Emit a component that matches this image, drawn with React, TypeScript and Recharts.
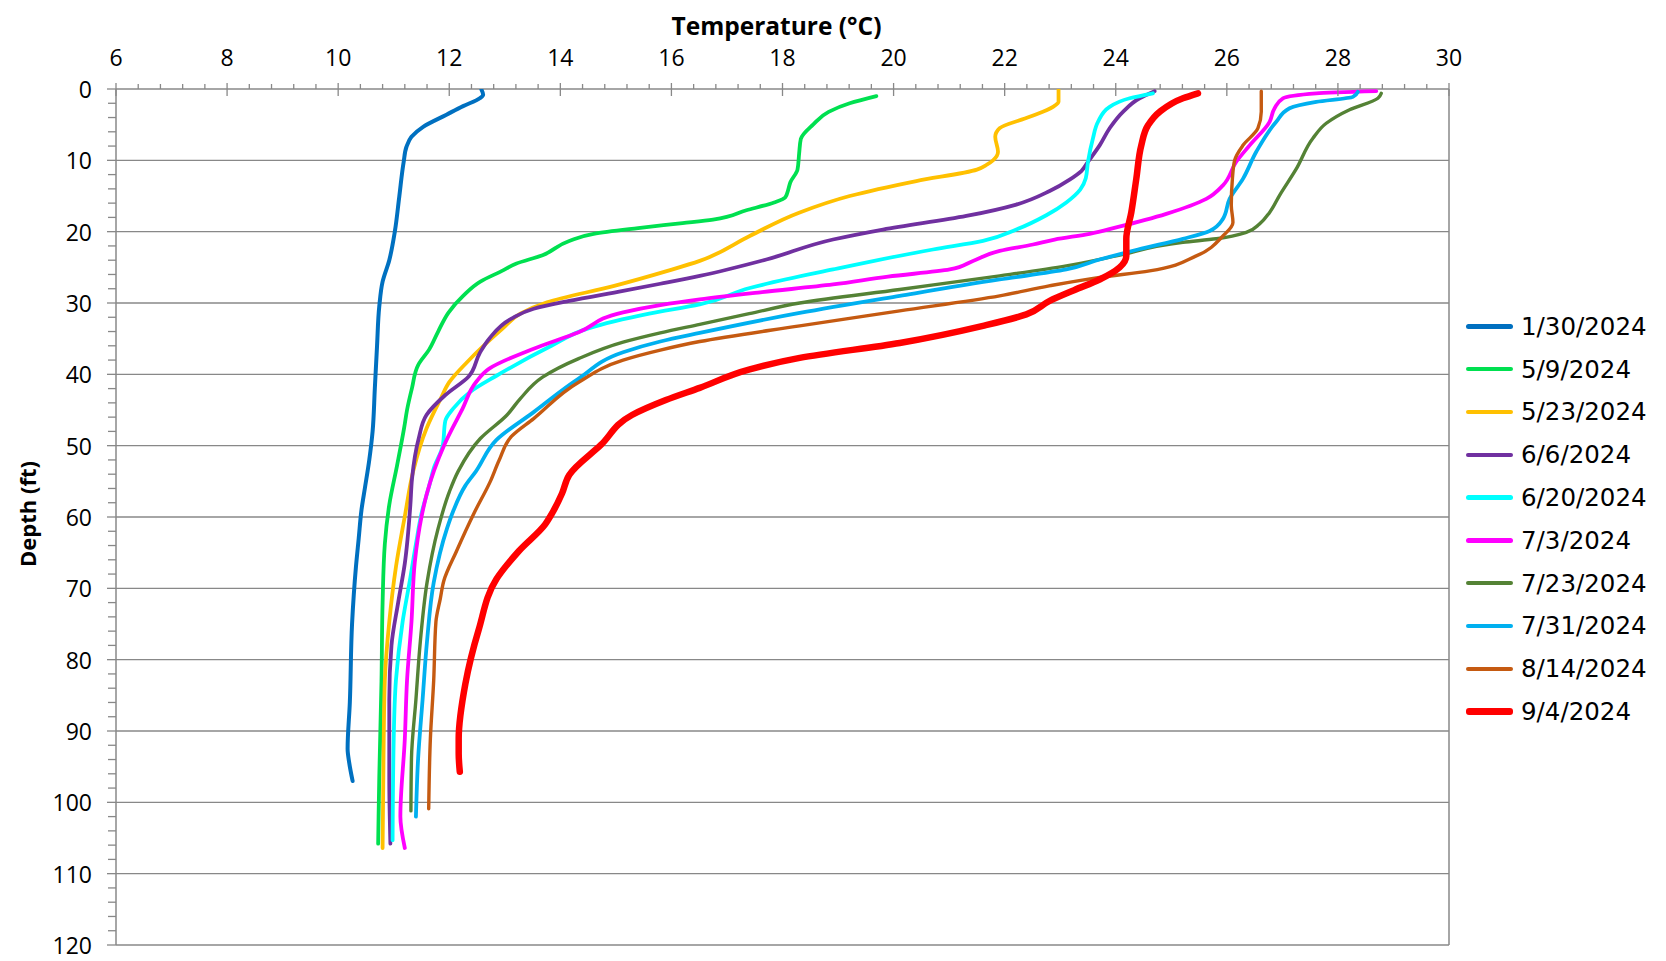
import React from 'react';
import { ScatterChart, Scatter, XAxis, YAxis, ReferenceLine, Legend } from 'recharts';

// axis labels
const tempTicks = [6, 8, 10, 12, 14, 16, 18, 20, 22, 24, 26, 28, 30];
const depthTicks = [0, 10, 20, 30, 40, 50, 60, 70, 80, 90, 100, 110, 120];

// minor tick marks between the labelled ones
const tempMinor: number[] = [];
for (let v = 6; v <= 30.001; v += 0.4) tempMinor.push(Math.round(v * 10) / 10);
const depthMinor: number[] = [];
for (let v = 0; v <= 120; v += 2) depthMinor.push(v);

// profiles: [depth ft, temperature °C]
const jan30 = [
  [0.1, 12.58], [0.8, 12.61], [1.3, 12.55], [2.4, 12.25], [3.6, 11.95], [5.3, 11.53], [6.7, 11.32],
  [8.1, 11.23], [10.2, 11.18], [15.1, 11.1], [20, 11.02], [24, 10.92], [27, 10.8], [30.5, 10.74],
  [36, 10.7], [42, 10.66], [48, 10.62], [52, 10.56], [56, 10.48], [59, 10.42], [63, 10.37], [67, 10.32],
  [75, 10.25], [86, 10.21], [92.5, 10.17], [94.5, 10.2], [97, 10.26],
];
const may9 = [
  [1, 19.69], [2, 19.21], [3.2, 18.83], [5, 18.55], [7, 18.33], [9, 18.3], [11.3, 18.27], [13.1, 18.14],
  [14.2, 18.1], [15.2, 18.05], [15.9, 17.85], [17, 17.35], [18.3, 16.75], [18.8, 16.2], [19.5, 15.4],
  [20.3, 14.6], [21.3, 14.16], [23.3, 13.68], [24.5, 13.2], [25.5, 12.95], [27, 12.56], [29, 12.25],
  [31.3, 11.99], [34, 11.8], [36.5, 11.64], [38.7, 11.44], [41.9, 11.33], [45, 11.24], [47.4, 11.19],
  [52.8, 11.06], [58.3, 10.92], [63.8, 10.84], [72, 10.8], [83, 10.78], [96.5, 10.74], [105.8, 10.72],
];
const may23 = [
  [0.1, 22.97], [1.8, 22.97], [2.5, 22.87], [3.9, 22.45], [5.5, 21.91], [6.7, 21.83], [8.8, 21.88],
  [10, 21.79], [10.6, 21.68], [11.3, 21.5], [12.9, 20.41], [15, 19.21], [17.3, 18.31], [20.6, 17.41],
  [24.1, 16.51], [25.5, 15.93], [27.6, 14.97], [29.9, 13.76], [31.5, 13.28], [33.6, 12.96], [38.3, 12.32],
  [41.1, 12.0], [43.5, 11.84], [47.6, 11.59], [53.6, 11.35], [59.9, 11.2], [67, 11.04], [74.7, 10.92],
  [82.9, 10.84], [91.1, 10.82], [106.4, 10.8],
];
const jun6 = [
  [0.3, 24.7], [1.3, 24.43], [3.2, 24.13], [5.5, 23.89], [7.9, 23.71], [10.2, 23.5], [11.5, 23.38],
  [12.7, 23.17], [14.3, 22.81], [16.2, 22.21], [17.8, 21.31], [19.7, 19.81], [21.1, 18.91], [23.9, 17.71],
  [26.2, 16.51], [27.3, 15.8], [28.3, 15.13], [29.7, 14.16], [30.8, 13.52], [32.2, 13.12], [35, 12.72],
  [37, 12.55], [40.3, 12.35], [42.9, 11.93], [45.7, 11.59], [49, 11.45], [54.6, 11.33], [58.3, 11.3],
  [66.5, 11.2], [72, 11.08], [78, 10.96], [85.6, 10.92], [96.5, 10.92], [105.8, 10.94],
];
const jun20 = [
  [0.6, 24.67], [1.3, 24.25], [2.5, 23.89], [4.6, 23.68], [6.9, 23.59], [10.2, 23.5], [12.5, 23.46],
  [14.1, 23.36], [15.9, 23.11], [17.7, 22.75], [19.7, 22.21], [21.3, 21.61], [22.5, 20.71], [25.3, 18.91],
  [27.9, 17.41], [30.2, 16.51], [31.5, 15.6], [33.6, 14.49], [36, 13.84], [40.2, 12.85], [42.5, 12.37],
  [44.8, 12.07], [46.5, 11.93], [50.1, 11.88], [53.2, 11.72], [55.6, 11.64], [59.2, 11.51], [63.8, 11.4],
  [68.5, 11.3], [74.7, 11.16], [82.9, 11.04], [91.1, 11.0], [105.3, 10.98],
];
const jul3 = [
  [0.3, 28.69], [0.6, 27.61], [1.3, 27.01], [2.7, 26.86], [4.6, 26.77], [7.9, 26.41], [10.2, 26.17],
  [13.5, 25.93], [15.4, 25.63], [17.5, 24.91], [19.4, 24.01], [20.3, 23.53], [21.1, 22.9], [21.8, 22.51],
  [22.7, 21.91], [24.1, 21.43], [25.3, 21.01], [26.3, 19.9], [27.4, 18.91], [28.5, 17.6], [29.5, 16.51],
  [30.3, 15.8], [31.3, 15.13], [34.1, 14.33], [36.4, 13.52], [39.2, 12.72], [41.1, 12.48], [44.8, 12.24],
  [49.9, 11.91], [56.9, 11.59], [60, 11.5], [66.3, 11.38], [74.7, 11.32], [82.9, 11.24], [91.1, 11.2],
  [102, 11.12], [106.4, 11.2],
];
const jul23 = [
  [0.6, 28.78], [1.3, 28.72], [2.9, 28.21], [4.8, 27.79], [6.9, 27.55], [11.2, 27.25], [14.9, 26.95],
  [17.3, 26.77], [18.9, 26.59], [20.1, 26.35], [21, 25.81], [21.5, 25.21], [23.4, 24.01], [24.8, 23.11],
  [26.2, 21.91], [28.1, 20.11], [30, 18.31], [31.5, 17.4], [33, 16.51], [34.2, 15.8], [35.5, 15.13],
  [37.8, 14.33], [40.4, 13.68], [43.4, 13.28], [45.7, 13.04], [49, 12.56], [53.6, 12.16], [56.5, 12.0],
  [61.6, 11.8], [69.2, 11.6], [77.4, 11.48], [85.6, 11.4], [93.8, 11.32], [101.2, 11.31],
];
const jul31 = [
  [0.4, 28.36], [1.1, 28.27], [1.8, 27.61], [2.7, 27.13], [4.6, 26.89], [8.8, 26.53], [12.6, 26.29],
  [15.4, 26.05], [18.2, 25.93], [19.9, 25.69], [21, 25.21], [22.5, 24.4], [23.9, 23.71], [25.3, 23.11],
  [26.7, 21.91], [29, 20.11], [31.4, 18.31], [34.2, 16.51], [35.4, 15.8], [36.9, 15.13], [40.6, 14.33],
  [45.3, 13.52], [49.2, 12.85], [53.6, 12.48], [55.6, 12.29], [59.2, 12.07], [61.6, 11.96], [69.2, 11.72],
  [77.4, 11.6], [85.6, 11.52], [93.8, 11.44], [102, 11.4],
];
const aug14 = [
  [0.3, 26.62], [3.2, 26.62], [5.5, 26.56], [7.9, 26.29], [10, 26.14], [12.6, 26.1], [16.3, 26.08],
  [18.7, 26.11], [20.6, 25.93], [23.4, 25.45], [25.5, 24.61], [26.4, 23.71], [27.6, 22.8], [29, 21.91],
  [31.1, 20.11], [33.2, 18.31], [35.4, 16.51], [36.6, 15.8], [38, 15.13], [41.1, 14.33], [46.2, 13.52],
  [48.7, 13.12], [52, 12.9], [55, 12.74], [59.4, 12.45], [64.8, 12.13], [69, 11.9], [71.4, 11.84],
  [74.7, 11.76], [82.9, 11.72], [91.1, 11.66], [100.9, 11.63],
];
const sep4 = [
  [0.6, 25.48], [1.3, 25.21], [3.2, 24.79], [5.1, 24.58], [7.9, 24.46], [12.6, 24.37], [17.3, 24.28],
  [21, 24.19], [23.4, 24.19], [25, 24.07], [26.7, 23.71], [28.2, 23.25], [29.7, 22.81], [31.6, 22.39],
  [33.2, 21.61], [35.6, 20.11], [37.7, 18.31], [39.3, 17.41], [41.9, 16.51], [43.6, 15.9], [45.7, 15.29],
  [49.9, 14.73], [54.1, 14.16], [56.7, 14.03], [59.5, 13.85], [61, 13.73], [64.8, 13.25], [68.7, 12.85],
  [75.8, 12.53], [83.4, 12.29], [91.1, 12.17], [93.2, 12.17], [95.7, 12.19],
];

const series = [
  { name: '1/30/2024', color: '#0070C0', width: 4, points: jan30 },
  { name: '5/9/2024', color: '#00E050', width: 3.8, points: may9 },
  { name: '5/23/2024', color: '#FFC000', width: 3.8, points: may23 },
  { name: '6/6/2024', color: '#7030A0', width: 3.8, points: jun6 },
  { name: '6/20/2024', color: '#00FFFF', width: 3.8, points: jun20 },
  { name: '7/3/2024', color: '#FF00FF', width: 3.8, points: jul3 },
  { name: '7/23/2024', color: '#548235', width: 3.4, points: jul23 },
  { name: '7/31/2024', color: '#00B0F0', width: 3.8, points: jul31 },
  { name: '8/14/2024', color: '#C55A11', width: 3.4, points: aug14 },
  { name: '9/4/2024', color: '#FF0000', width: 6.5, points: sep4 },
];

const axisColor = '#888888';
const tickFont = '"Open Sans", sans-serif';

const TempTick = (props: any) => {
  const { x, y, payload } = props;
  const major = tempTicks.some((m) => Math.abs(m - payload.value) < 1e-6);
  return (
    <g>
      <line x1={x} x2={x} y1={major ? y - 6 : y - 5} y2={major ? y + 7 : y} stroke={axisColor} strokeWidth={1.3} />
      {major && (
        <text x={x} y={y - 32} textAnchor="middle" dominantBaseline="central" fontFamily={tickFont} fontSize={23} fill="#000">
          {payload.value}
        </text>
      )}
    </g>
  );
};

const DepthTick = (props: any) => {
  const { x, y, payload } = props;
  const major = depthTicks.includes(payload.value);
  return (
    <g>
      <line x1={major ? x - 9 : x - 8} x2={x} y1={y} y2={y} stroke={axisColor} strokeWidth={1.3} />
      {major && (
        <text x={x - 24} y={y} textAnchor="end" dominantBaseline="central" fontFamily={tickFont} fontSize={23} fill="#000">
          {payload.value}
        </text>
      )}
    </g>
  );
};

const LegendBox = () => (
  <div style={{ fontFamily: '"DejaVu Sans", sans-serif', fontSize: 24.5, color: '#000' }}>
    {series.map((s) => (
      <div key={s.name} style={{ display: 'flex', alignItems: 'center', height: 42.8 }}>
        <div style={{ width: 47, height: s.width + 0.5, background: s.color, borderRadius: 3, marginRight: 8 }} />
        <span>{s.name}</span>
      </div>
    ))}
  </div>
);

export default function App() {
  return (
    <ScatterChart width={1650} height={953} margin={{ top: 0, right: 209, bottom: 16, left: 0 }}>
      <XAxis
        type="number"
        dataKey="t"
        orientation="top"
        domain={[6, 30]}
        ticks={tempMinor}
        interval={0}
        height={81}
        tickSize={0}
        tickMargin={0}
        tickLine={false}
        tick={<TempTick />}
        axisLine={{ stroke: axisColor, strokeWidth: 1.5 }}
        allowDataOverflow
        label={{
          content: ({ viewBox }: any) => (
            <text
              x={viewBox.x + viewBox.width / 2 - 6}
              y={viewBox.y + 17}
              textAnchor="middle"
              dominantBaseline="central"
              fontFamily={tickFont}
              fontWeight="bold"
              fontSize={24.5}
            >
              Temperature (°C)
            </text>
          ),
        }}
      />
      <YAxis
        type="number"
        dataKey="d"
        reversed
        domain={[0, 120]}
        ticks={depthMinor}
        interval={0}
        width={108}
        tickSize={0}
        tickMargin={0}
        tickLine={false}
        tick={<DepthTick />}
        axisLine={{ stroke: axisColor, strokeWidth: 1.5 }}
        allowDataOverflow
        label={{
          content: ({ viewBox }: any) => {
            const cx = 18.5;
            const cy = viewBox.y + viewBox.height / 2 - 3;
            return (
              <text
                x={cx}
                y={cy}
                transform={`rotate(-90, ${cx}, ${cy})`}
                textAnchor="middle"
                dominantBaseline="central"
                fontFamily={tickFont}
                fontWeight="bold"
                fontSize={22}
              >
                Depth (ft)
              </text>
            );
          },
        }}
      />
      {depthTicks.slice(1).map((v) => (
        <ReferenceLine key={v} y={v} stroke={axisColor} strokeWidth={1.3} />
      ))}
      <ReferenceLine x={30} stroke={axisColor} strokeWidth={1.5} />
      {series.map((s) => (
        <Scatter
          key={s.name}
          name={s.name}
          data={s.points.map(([d, t]) => ({ d, t }))}
          fill={s.color}
          line={{ stroke: s.color, strokeWidth: s.width, strokeLinecap: 'round', strokeLinejoin: 'round' }}
          lineJointType="monotoneY"
          shape={() => <g />}
          isAnimationActive={false}
        />
      ))}
      <Legend
        layout="horizontal"
        align="center"
        verticalAlign="middle"
        content={<LegendBox />}
        wrapperStyle={{ position: 'absolute', left: 1458, top: 297, width: 190 }}
      />
    </ScatterChart>
  );
}
